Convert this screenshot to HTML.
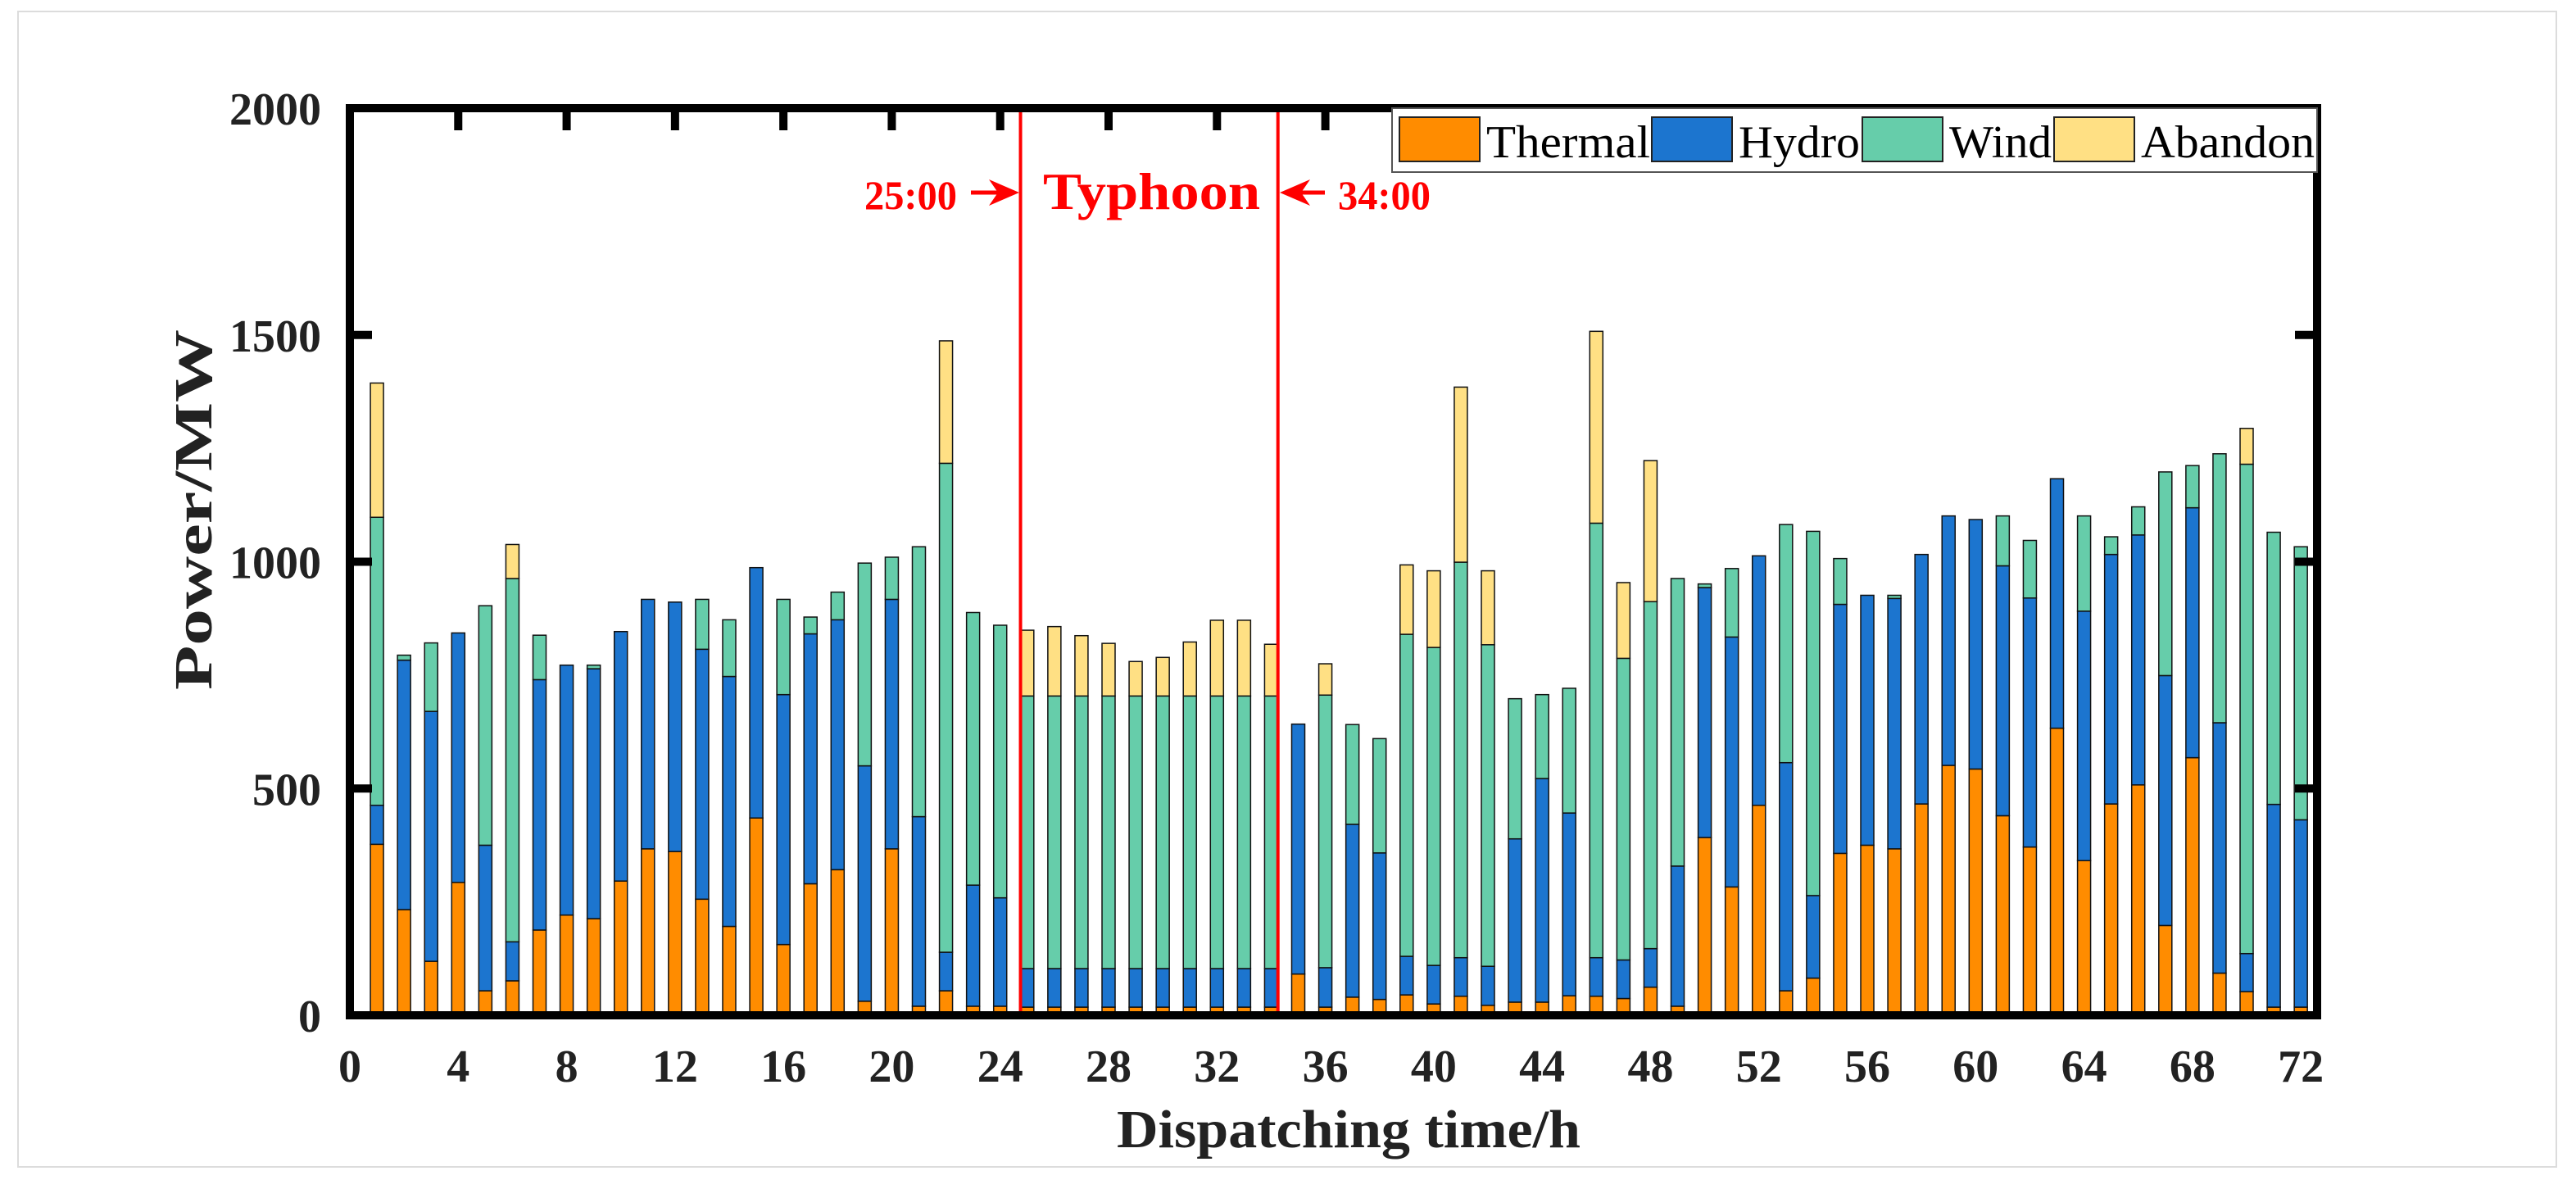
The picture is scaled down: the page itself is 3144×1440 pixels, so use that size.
<!DOCTYPE html>
<html><head><meta charset="utf-8"><style>
html,body{margin:0;padding:0;background:#fff;}
svg{display:block;}
text{font-family:"Liberation Serif",serif;}
</style></head><body>
<svg id="chart" width="3144" height="1440" viewBox="0 0 3144 1440" xmlns="http://www.w3.org/2000/svg">
<rect x="22" y="14" width="3098" height="1410" fill="#fff" stroke="#dcdcdc" stroke-width="2"/>
<g id="bars"></g>
<g id="axes"></g>
</svg>
<script>
const hours=[];for(let i=1;i<=72;i++)hours.push(i);
const thermal=[377,233,119,293,54,76,188,221,213,296,367,361,256,196,435,156,290,321,31,367,20,54,20,20,18,18,18,18,18,18,18,18,18,18,91,18,40,35,45,25,42,22,29,29,43,42,37,62,20,392,283,463,54,82,357,375,367,466,551,543,440,371,633,341,466,508,198,568,93,52,18,18];
const hydro=[86,550,551,550,321,86,552,551,551,550,550,550,551,551,552,551,551,551,519,550,418,85,267,239,85,85,85,85,85,85,85,85,85,85,551,87,381,323,85,85,85,86,360,493,403,85,85,85,309,551,551,550,503,182,549,551,552,550,550,550,551,549,550,550,550,551,551,551,552,84,447,413];
const wind=[635,11,151,0,528,801,98,0,8,0,0,0,110,125,0,210,37,61,447,93,595,1078,601,601,601,601,601,601,601,601,601,601,601,601,0,601,220,252,710,701,872,709,309,185,275,958,665,765,634,8,151,0,525,803,101,0,7,0,0,0,110,127,0,210,39,62,449,93,593,1079,600,602];
const abandon=[296,0,0,0,0,75,0,0,0,0,0,0,0,0,0,0,0,0,0,0,0,270,0,0,145,153,133,116,76,85,119,167,167,114,0,69,0,0,153,169,386,163,0,0,0,423,167,311,0,0,0,0,0,0,0,0,0,0,0,0,0,0,0,0,0,0,0,0,0,79,0,0];
const xTicks=[0,4,8,12,16,20,24,28,32,36,40,44,48,52,56,60,64,68,72];
const yTicks=[0,500,1000,1500,2000];
const typhoonStart=24.75, typhoonEnd=34.25;

const NS="http://www.w3.org/2000/svg";
const X0=427,X1=2828,XMAX=72.6,Y0=1239,Y1=132,YMAX=2000;
const xs=v=>X0+(X1-X0)*v/XMAX;
const ys=v=>Y0-(Y0-Y1)*v/YMAX;
function mk(tag,attrs,parent,txt){const e=document.createElementNS(NS,tag);for(const k in attrs)e.setAttribute(k,attrs[k]);if(txt!==undefined)e.textContent=txt;parent.appendChild(e);return e;}
const bars=document.getElementById('bars'),axes=document.getElementById('axes'),svg=document.getElementById('chart');
const series=[[thermal,'#FF8C00','thermal'],[hydro,'#1C75CF','hydro'],[wind,'#66CDAA','wind'],[abandon,'#FFE084','abandon']];
const bw=16;
hours.forEach((h,i)=>{let base=0;series.forEach(([arr,col,nm])=>{const v=arr[i];if(v>0){const r=mk('rect',{x:xs(h)-bw/2,y:ys(base+v),width:bw,height:ys(base)-ys(base+v),fill:col,stroke:'#111','stroke-width':1.5},bars);

}base+=v;});});
[typhoonStart,typhoonEnd].forEach((t,k)=>{const l=mk('line',{x1:xs(t),x2:xs(t),y1:Y1,y2:Y0,stroke:'#ff0000','stroke-width':4},axes);

});
const fr=mk('rect',{x:X0,y:Y1,width:X1-X0,height:Y0-Y1,fill:'none',stroke:'#000','stroke-width':10},axes);


xTicks.forEach(t=>{const x=xs(t);
if(t>0&&t<72){const tk=mk('line',{x1:x,x2:x,y1:Y1,y2:Y1+27,stroke:'#000','stroke-width':10},axes);

}
const lb=mk('text',{x:x,y:1320,'text-anchor':'middle','font-size':56,'font-weight':'bold',fill:'#222'},axes,String(t));

});
yTicks.forEach(t=>{const y=ys(t);
if(t>0&&t<2000){const a=mk('line',{x1:X0,x2:X0+27,y1:y,y2:y,stroke:'#000','stroke-width':10},axes);


const b=mk('line',{x1:X1-27,x2:X1,y1:y,y2:y,stroke:'#000','stroke-width':10},axes);

}
const lb=mk('text',{x:392,y:y+20,'text-anchor':'end','font-size':56,'font-weight':'bold',fill:'#222'},axes,String(t));

});
const xt=mk('text',{x:1646,y:1400,'text-anchor':'middle','font-size':66,'font-weight':'bold',fill:'#222',textLength:566,lengthAdjust:'spacingAndGlyphs'},axes,'Dispatching time/h');


const yt=mk('text',{x:0,y:0,'text-anchor':'middle','font-size':66,'font-weight':'bold',fill:'#222',transform:'translate(258,622) rotate(-90)',textLength:440,lengthAdjust:'spacingAndGlyphs'},axes,'Power/MW');


const a1=mk('text',{x:1055,y:255,'font-size':50,'font-weight':'bold',fill:'#ff0000',textLength:113,lengthAdjust:'spacingAndGlyphs'},axes,'25:00');


const ar1=mk('g',{},axes);


mk('line',{x1:1185,x2:1222,y1:235,y2:235,stroke:'#ff0000','stroke-width':5},ar1);
mk('polygon',{points:'1207,219 1244,235 1207,251 1218,235',fill:'#ff0000'},ar1);
const ty=mk('text',{x:1273,y:255,'font-size':64,'font-weight':'bold',fill:'#ff0000',textLength:265,lengthAdjust:'spacingAndGlyphs'},axes,'Typhoon');


const ar2=mk('g',{},axes);


mk('line',{x1:1584,x2:1617,y1:235,y2:235,stroke:'#ff0000','stroke-width':5},ar2);
mk('polygon',{points:'1599,219 1562,235 1599,251 1588,235',fill:'#ff0000'},ar2);
const a2=mk('text',{x:1633,y:255,'font-size':50,'font-weight':'bold',fill:'#ff0000',textLength:113,lengthAdjust:'spacingAndGlyphs'},axes,'34:00');


const lg=mk('g',{},svg);


mk('rect',{x:1699,y:132,width:1129,height:78,fill:'#fff',stroke:'#555','stroke-width':2},lg);
const leg=[['Thermal','#FF8C00',1708,1814,200],['Hydro','#1C75CF',2016,2122,148],['Wind','#66CDAA',2273,2379,125],['Abandon','#FFE084',2507,2613,212]];
leg.forEach(([nm,col,sx,tx,tw])=>{const g=mk('g',{},lg);


mk('rect',{x:sx,y:143,width:98,height:54,fill:col,stroke:'#222','stroke-width':2},g);
mk('text',{x:tx,y:192,'font-size':56,fill:'#000',textLength:tw,lengthAdjust:'spacingAndGlyphs'},g,nm);});
</script>
</body></html>
